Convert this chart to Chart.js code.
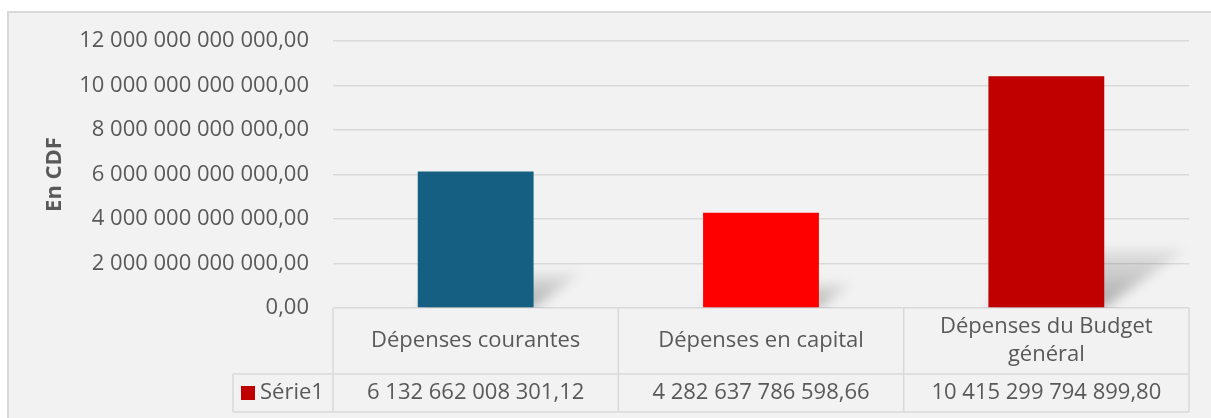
<!DOCTYPE html>
<html lang="fr">
<head>
<meta charset="utf-8">
<title>Dépenses</title>
<script src="https://cdn.jsdelivr.net/npm/chart.js@4/dist/chart.umd.min.js"></script>
<style>
    html, body { margin: 0; padding: 0; background: #fff; }
    #depenses { display: block; }
</style>
</head>
<body>
<canvas id="depenses" width="1211" height="418"></canvas>
<script>
const categories = [
    "Dépenses courantes",
    "Dépenses en capital",
    ["Dépenses du Budget", "général"],
];
const serie1 = [6132662008301.12, 4282637786598.66, 10415299794899.80];
const serieLabel = "Série1";
const yTicks = [0, 2e12, 4e12, 6e12, 8e12, 10e12, 12e12];

const police = "'Open Sans', 'Noto Sans', sans-serif";
const gris = "#595959";
const ligne = "#d9d9d9";

// 12 000 000 000 000,00
function fmt(v) {
    const parts = Number(v).toFixed(2).split(".");
    return parts[0].replace(/\B(?=(\d{3})+(?!\d))/g, " ") + "," + parts[1];
}

// panneau gris avec bordure
const panneau = {
    id: "panneau",
    beforeDraw(chart) {
        const ctx = chart.ctx;
        ctx.save();
        ctx.fillStyle = "#fff";
        ctx.fillRect(0, 0, chart.width, chart.height);
        ctx.fillStyle = "#f2f2f2";
        ctx.fillRect(8, 12, chart.width, chart.height);
        ctx.strokeStyle = ligne;
        ctx.lineWidth = 2;
        ctx.strokeRect(8, 12, chart.width + 10, chart.height + 10);
        ctx.restore();
    },
};

// ombre en perspective derrière chaque barre
const ombres = {
    id: "ombres",
    beforeDatasetsDraw(chart) {
        const { ctx, chartArea } = chart;
        const meta = chart.getDatasetMeta(0);
        ctx.save();
        ctx.beginPath();
        ctx.rect(chartArea.left, chartArea.top, chartArea.right - chartArea.left, chartArea.bottom - chartArea.top);
        ctx.clip();
        ctx.filter = "blur(6px)";
        meta.data.forEach((bar) => {
            const h = bar.base - bar.y;
            const x0 = bar.x - bar.width / 2;
            const x1 = bar.x + bar.width / 2;
            const dx = h * 0.35;
            const dy = h * 0.25;
            const g = ctx.createLinearGradient(0, bar.base, 0, bar.base - dy);
            g.addColorStop(0, "rgba(0,0,0,0.30)");
            g.addColorStop(1, "rgba(0,0,0,0.06)");
            ctx.fillStyle = g;
            ctx.beginPath();
            ctx.moveTo(x0, bar.base);
            ctx.lineTo(x1, bar.base);
            ctx.lineTo(x1 + dx, bar.base - dy);
            ctx.lineTo(x0 + dx, bar.base - dy);
            ctx.closePath();
            ctx.fill();
        });
        ctx.restore();
    },
};

// table de données sous l'axe
const tableau = {
    id: "tableau",
    afterDraw(chart) {
        const { ctx, chartArea, scales } = chart;
        const { left, right, bottom } = chartArea;
        const colW = (right - left) / categories.length;
        const rowSplit = bottom + 66;
        const tableBottom = bottom + 104;
        const keyLeft = left - 100;

        ctx.save();
        ctx.strokeStyle = ligne;
        ctx.lineWidth = 1.5;
        ctx.beginPath();
        ctx.moveTo(keyLeft, rowSplit);
        ctx.lineTo(right, rowSplit);
        ctx.moveTo(keyLeft, tableBottom);
        ctx.lineTo(right, tableBottom);
        ctx.moveTo(keyLeft, rowSplit);
        ctx.lineTo(keyLeft, tableBottom);
        for (let i = 0; i <= categories.length; i++) {
            const x = left + i * colW;
            ctx.moveTo(x, bottom);
            ctx.lineTo(x, tableBottom);
        }
        ctx.stroke();

        ctx.fillStyle = gris;
        ctx.font = "22px " + police;
        ctx.textAlign = "center";
        ctx.textBaseline = "middle";
        const midLabel = (bottom + rowSplit) / 2;
        const midValue = (rowSplit + tableBottom) / 2;
        categories.forEach((cat, i) => {
            const x = scales.x.getPixelForValue(i);
            const lines = Array.isArray(cat) ? cat : [cat];
            const lh = 28;
            lines.forEach((t, j) => {
                ctx.fillText(t, x, midLabel + (j - (lines.length - 1) / 2) * lh);
            });
            ctx.fillText(fmt(serie1[i]), x, midValue);
        });

        ctx.fillStyle = "#c00000";
        ctx.fillRect(keyLeft + 8, midValue - 7, 14, 14);
        ctx.fillStyle = gris;
        ctx.textAlign = "left";
        ctx.fillText(serieLabel, keyLeft + 27, midValue);
        ctx.restore();
    },
};

new Chart(document.getElementById("depenses"), {
    type: "bar",
    data: {
        labels: categories,
        datasets: [
            {
                label: serieLabel,
                data: serie1,
                backgroundColor: ["#156082", "#ff0000", "#c00000"],
                borderWidth: 0,
                categoryPercentage: 1,
                barPercentage: 0.406,
            },
        ],
    },
    options: {
        responsive: false,
        animation: false,
        devicePixelRatio: 1,
        layout: { padding: { top: 41, right: 22, bottom: 110, left: 0 } },
        scales: {
            x: { display: false },
            y: {
                min: 0,
                max: 12e12,
                afterBuildTicks: (scale) => {
                    scale.ticks = yTicks.map((v) => ({ value: v }));
                },
                afterFit: (scale) => {
                    scale.width = 333;
                },
                grid: { color: ligne, lineWidth: 1.5, drawTicks: false },
                border: { display: false },
                ticks: {
                    padding: 24,
                    color: gris,
                    font: { family: police, size: 22 },
                    callback: (v) => fmt(v),
                },
                title: {
                    display: true,
                    text: "En CDF",
                    color: gris,
                    font: { family: police, size: 22, weight: "bold" },
                    padding: { top: 42, bottom: 0 },
                },
            },
        },
        plugins: {
            legend: { display: false },
            tooltip: { enabled: false },
        },
    },
    plugins: [panneau, ombres, tableau],
});
</script>
</body>
</html>
